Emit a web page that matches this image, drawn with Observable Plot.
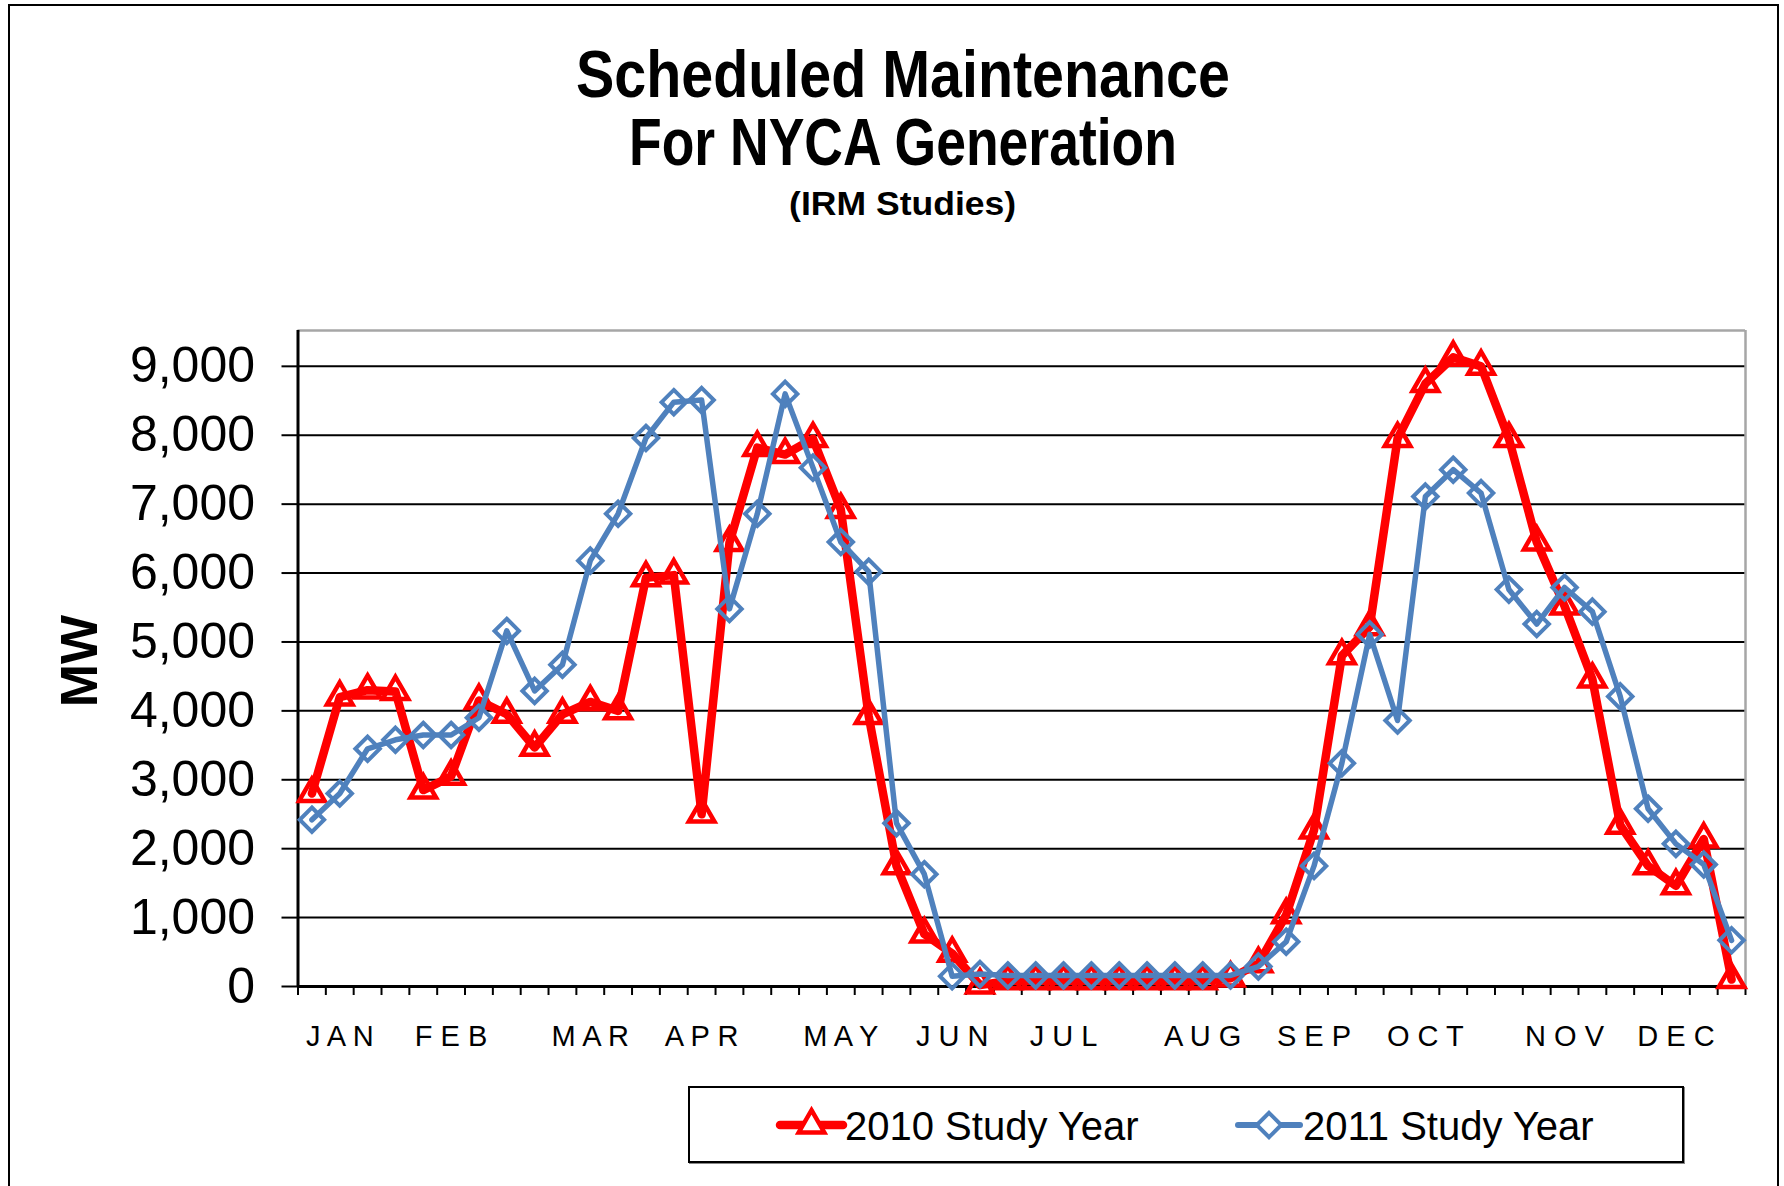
<!DOCTYPE html>
<html>
<head>
<meta charset="utf-8">
<script src="https://cdn.jsdelivr.net/npm/d3@7"></script>
<script src="https://cdn.jsdelivr.net/npm/@observablehq/plot@0.6"></script>
<style>
  body { margin: 0; background: #fff; }
  #wrap { position: relative; width: 1784px; height: 1186px; overflow: hidden; background: #fff;
          font-family: "Liberation Sans", Arial, sans-serif; color: #000; }
  #chart { position: absolute; left: 0; top: 0; }
  .tl { position: absolute; left: 0; width: 1806px; text-align: center; font-weight: bold; white-space: nowrap; }
  .tl span { display: inline-block; transform-origin: 50% 50%; }
  #outer { position: absolute; left: 8px; top: 4px; width: 1771px; height: 1300px; box-sizing: border-box;
           border: 2.5px solid #000; border-bottom: none; }
  #mw { position: absolute; left: -21.5px; top: 631px; width: 200px; height: 60px; line-height: 60px;
        text-align: center; font-weight: bold; font-size: 52px; transform: rotate(-90deg); }
  #legbox { position: absolute; left: 688px; top: 1086px; width: 996px; height: 77px; box-sizing: border-box;
            border: 2px solid #000; box-shadow: 1px 1px 0 #888; }
  #leg { position: absolute; left: 0; top: 0; }
</style>
</head>
<body>
<div id="wrap">
  <div id="outer"></div>
  <div id="chart"></div>
  <div class="tl" id="t1" style="top:41px;font-size:66px;line-height:66px;"><span data-w="654">Scheduled Maintenance</span></div>
  <div class="tl" id="t2" style="top:109px;font-size:66px;line-height:66px;"><span data-w="548">For NYCA Generation</span></div>
  <div class="tl" id="t3" style="top:186px;font-size:34px;line-height:34px;"><span data-w="227">(IRM Studies)</span></div>
  <div id="mw">MW</div>
  <div id="legbox"></div>
  <svg id="leg" width="1784" height="1186"></svg>
</div>
<script>
// ---- data ----
const weekIndex = d3.range(52);
const mw2010 = [2800, 4200, 4300, 4280, 2850, 3050, 4150, 3950, 3470, 3950, 4130, 4000,
                5930, 5970, 2500, 6440, 7820, 7720, 7950, 6920, 3930, 1750, 760, 480,
                20, 80, 80, 80, 80, 80, 80, 80, 80, 120, 330, 1040,
                2270, 4800, 5220, 7950, 8750, 9130, 9000, 7950, 6450, 5520, 4460, 2340,
                1750, 1460, 2140, 100];
const mw2011 = [2420, 2800, 3450, 3580, 3650, 3650, 3900, 5160, 4290, 4670, 6180, 6860,
                7960, 8480, 8510, 5480, 6860, 8600, 7530, 6450, 6020, 2370, 1630, 150,
                180, 160, 160, 160, 160, 160, 160, 160, 160, 160, 290, 650,
                1750, 3240, 5110, 3860, 7110, 7500, 7160, 5760, 5260, 5790, 5440, 4210,
                2580, 2070, 1770, 670];
const monthLabels = ["J A N", "F E B", "M A R", "A P R", "M A Y", "J U N", "J U L", "A U G", "S E P", "O C T", "N O V", "D E C"];
const monthWeek = [1, 5, 10, 14, 19, 23, 27, 32, 36, 40, 45, 49];
const yTicks = [0, 1000, 2000, 3000, 4000, 5000, 6000, 7000, 8000, 9000];
const seriesNames = ["2010 Study Year", "2011 Study Year"];
const seriesColors = ["#FF0000", "#4F81BD"];

const yMax = 9520;
const rows2010 = weekIndex.map(i => ({week: i + 0.5, mw: mw2010[i]}));
const rows2011 = weekIndex.map(i => ({week: i + 0.5, mw: mw2011[i]}));
const labelAt = new Map(monthWeek.map((w, k) => [w + 0.5, monthLabels[k]]));

const chart = Plot.plot({
  width: 1784,
  height: 1186,
  marginLeft: 297.5,
  marginRight: 39,
  marginTop: 330,
  marginBottom: 200,
  x: {domain: [0, weekIndex.length]},
  y: {domain: [0, yMax]},
  style: {fontFamily: "'Liberation Sans', Arial, sans-serif", background: "transparent", color: "#000", overflow: "visible"},
  marks: [
    Plot.ruleY(yTicks, {stroke: "#000", strokeWidth: 2}),
    Plot.ruleY([yMax], {stroke: "#a6a6a6", strokeWidth: 2.5}),
    Plot.ruleX([weekIndex.length], {stroke: "#a6a6a6", strokeWidth: 2.5}),
    Plot.axisY({ticks: yTicks, tickSize: 16, tickPadding: 27, tickFormat: d3.format(","), fontSize: 50,
                stroke: "#000", strokeWidth: 2, strokeOpacity: 1, label: null}),
    Plot.axisX({ticks: d3.range(weekIndex.length + 1), tickSize: 9, tickFormat: () => "",
                stroke: "#000", strokeWidth: 2, strokeOpacity: 1, label: null}),
    Plot.axisX({ticks: monthWeek.map(w => w + 0.5), tickSize: 0, tickPadding: 39,
                tickFormat: d => labelAt.get(d), fontSize: 29, label: null}),
    Plot.ruleX([0], {stroke: "#000", strokeWidth: 3}),
    Plot.ruleY([0], {stroke: "#000", strokeWidth: 3}),
    Plot.line(rows2010, {x: "week", y: "mw", stroke: seriesColors[0], strokeWidth: 8.5, strokeLinejoin: "round"}),
    Plot.dot(rows2010, {x: "week", y: "mw", symbol: "triangle", r: 9.5, stroke: seriesColors[0], strokeWidth: 4.5, fill: "none"}),
    Plot.line(rows2011, {x: "week", y: "mw", stroke: seriesColors[1], strokeWidth: 5.5, strokeLinejoin: "round"}),
    Plot.dot(rows2011, {x: "week", y: "mw", symbol: "diamond2", r: 11, stroke: seriesColors[1], strokeWidth: 4, fill: "none"})
  ]
});
document.getElementById("chart").appendChild(chart);

// ---- title width fitting ----
document.querySelectorAll(".tl span").forEach(s => {
  const target = +s.dataset.w;
  const w = s.getBoundingClientRect().width;
  if (w > 0) s.style.transform = `scaleX(${target / w})`;
});

// ---- legend ----
const leg = d3.select("#leg");
const items = [
  {x0: 780, x1: 843, text: 845, sym: d3.symbolTriangle, r: 9.5, sw: 8.5, msw: 4.5},
  {x0: 1238, x1: 1300, text: 1303, sym: d3.symbolDiamond2, r: 11, sw: 6, msw: 4}
];
items.forEach((it, k) => {
  const cy = 1125;
  leg.append("line").attr("x1", it.x0).attr("x2", it.x1).attr("y1", cy).attr("y2", cy)
     .attr("stroke", seriesColors[k]).attr("stroke-width", it.sw).attr("stroke-linecap", "round");
  leg.append("path").attr("d", d3.symbol(it.sym, Math.PI * it.r * it.r)())
     .attr("transform", `translate(${(it.x0 + it.x1) / 2},${cy})`)
     .attr("fill", "#fff").attr("stroke", seriesColors[k]).attr("stroke-width", it.msw);
  leg.append("text").attr("x", it.text).attr("y", 1140).attr("font-size", 40)
     .attr("font-family", "'Liberation Sans', Arial, sans-serif").attr("fill", "#000")
     .text(seriesNames[k]);
});
</script>
</body>
</html>
